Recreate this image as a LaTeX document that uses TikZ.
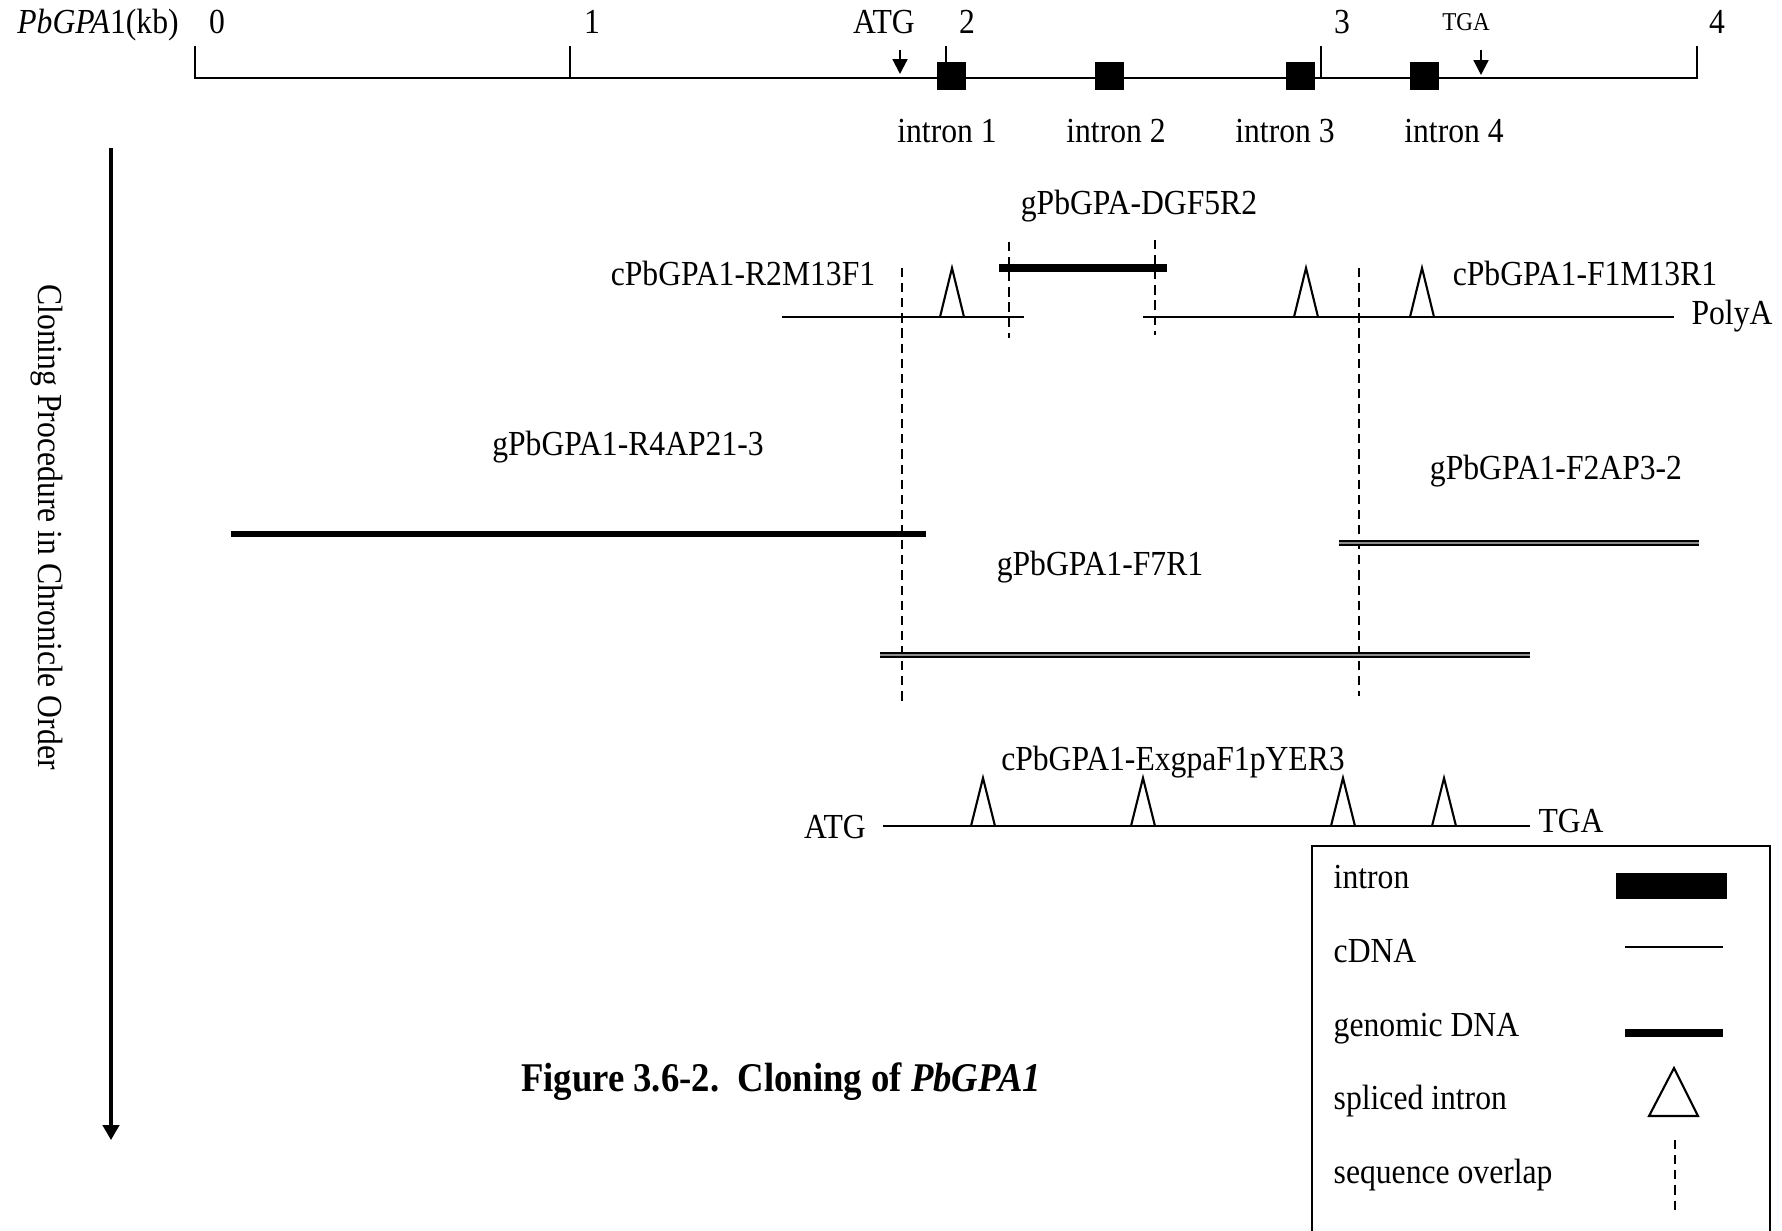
\documentclass[tikz,border=0pt]{standalone}
\usepackage{fontspec}
\setmainfont{Liberation Serif}[FakeStretch=0.9]
\usetikzlibrary{arrows.meta}

\begin{document}
\begin{tikzpicture}[
    x=0.01cm, y=-0.01cm,
    every node/.style={font=\fontsize{10}{12}\selectfont, inner sep=0pt, anchor=base},
    cdna/.style={line width=0.6pt},
    gdna/.style={line width=1.9pt},
    gdnascan/.style={line width=0.65pt, double=black!45, double distance=0.6pt},
    intronbox/.style={fill=black, inner sep=0pt, minimum width=0.29cm, minimum height=0.27cm, anchor=center},
    overlap/.style={line width=0.6pt, dash pattern=on 2.6pt off 1.7pt},
    splice/.style={line width=0.6pt, line join=miter},
    smallarr/.style={-{Triangle[width=4.2pt,length=4.2pt]}, line width=0.6pt},
    arr/.style={-{Triangle[width=4.6pt,length=4.2pt]}, line width=0.9pt}
]
\useasboundingbox (0,0) rectangle (1782,1230);

% Top: genomic map in kb
\node (kb) at (98,34) {\textit{PbGPA}1(kb)};
\draw[cdna] (195,46) -- (195,78) coordinate (ax0) -- (1697,78) coordinate (ax4) -- (1697,46);
\foreach \k in {1,2,3}
  \draw[cdna] (195+375.4*\k,78) -- ++(0,-32);
\foreach \k in {0,...,4}
  \node (tick\k) at (217+375*\k,34) {\k};

\node (atg) at (884,34) {ATG};
\node[font=\fontsize{7.3}{8}\selectfont] (tga) at (1466,30) {TGA};
\coordinate (atgtop) at (900,50);
\coordinate (atgend) at (900,74);
\coordinate (tgatop) at (1481,50);
\coordinate (tgaend) at (1481,75);
\draw[smallarr] (atgtop) -- (atgend);
\draw[smallarr] (tgatop) -- (tgaend);

\node[intronbox] (in1) at (951,76) {};
\node[intronbox] (in2) at (1109,76) {};
\node[intronbox] (in3) at (1300,76) {};
\node[intronbox] (in4) at (1424,76) {};
\node (lin1) at (947,142) {intron 1};
\node (lin2) at (1116,142) {intron 2};
\node (lin3) at (1285,142) {intron 3};
\node (lin4) at (1454,142) {intron 4};

% Left: time axis
\coordinate (ttop) at (111,148);
\coordinate (tbot) at (111,1140);
\draw[arr] (ttop) -- (tbot);
\node[rotate=-90, anchor=center] (order) at (47,527) {Cloning Procedure in Chronicle Order};

% Row 1: cDNA clones and DGF5R2
\node (dgf) at (1139,214) {gPbGPA-DGF5R2};
\node (r2m) at (743,285) {cPbGPA1-R2M13F1};
\node (f1m) at (1585,285) {cPbGPA1-F1M13R1};
\node (polya) at (1732,324) {PolyA};
\draw[line width=2.4pt] (999,268) -- (1167,268);
\draw[cdna] (782,317) -- (1024,317);
\draw[cdna] (1143,317) -- (1674,317);
\foreach \x in {952,1306,1422}
  \draw[splice] (\x-12,317) -- (\x,268) -- (\x+12,317);

% overlaps
\draw[overlap] (1009,242) -- (1009,338);
\draw[overlap] (1155,240) -- (1155,335);
\draw[overlap] (902,268) -- (902,705);
\draw[overlap] (1359,268) -- (1359,696);

% Rows 2-3: genomic clones
\node (r4a) at (628,455) {gPbGPA1-R4AP21-3};
\node (f2a) at (1556,479) {gPbGPA1-F2AP3-2};
\node (f7r) at (1100,575) {gPbGPA1-F7R1};
\draw[gdna] (231,534) -- (926,534);
\draw[gdnascan] (1339,543) -- (1699,543);
\draw[gdnascan] (880,655) -- (1530,655);

% Row 4: full-length cDNA
\node (exg) at (1173,770) {cPbGPA1-ExgpaF1pYER3};
\node (atg2) at (835,838) {ATG};
\node (tga2) at (1571,832) {TGA};
\draw[cdna] (883,826) -- (1530,826);
\foreach \x in {983,1143,1343,1444}
  \draw[splice] (\x-12,826) -- (\x,778) -- (\x+12,826);

% Caption
\node[font=\fontsize{11.6}{14}\selectfont\bfseries] (cap) at (781,1091) {Figure 3.6-2.\ \ Cloning of \textit{PbGPA1}};

% Legend
\draw[cdna] (1312,1232) -- (1312,846) -- (1770,846) -- (1770,1232);
\node[anchor=base west] (kin) at (1333,888) {intron};
\node[anchor=base west] (kcd) at (1333,962) {cDNA};
\node[anchor=base west] (kgd) at (1333,1036) {genomic DNA};
\node[anchor=base west] (ksp) at (1333,1109) {spliced intron};
\node[anchor=base west] (kov) at (1333,1183) {sequence overlap};
\fill (1616,873) rectangle (1727,899);
\draw[cdna] (1625,947) -- (1723,947);
\draw[line width=2pt] (1625,1033) -- (1723,1033);
\draw[splice] (1649,1116) -- (1674,1068) -- (1698,1116) -- cycle;
\draw[overlap] (1675,1140) -- (1675,1212);

\end{tikzpicture}
\end{document}
